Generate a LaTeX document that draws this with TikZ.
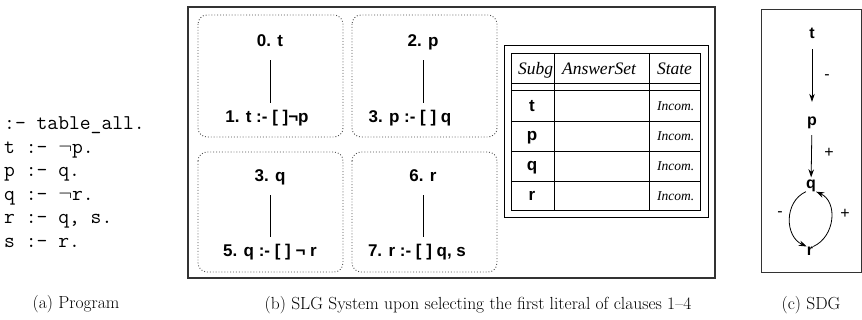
\documentclass[tikz,border=0pt]{standalone}
\usepackage{fontspec}
\newfontfamily\hv{Liberation Sans}
\newfontfamily\tms{Liberation Serif}
\usetikzlibrary{arrows.meta}
\begin{document}
\begin{tikzpicture}[x=1pt,y=-1pt,
  bframe/.style={draw=black!80,line width=1.4pt},
  sframe/.style={draw=black!80,line width=1pt},
  dotbox/.style={draw=black!70,dotted,line width=0.9pt,rounded corners=9pt},
  lbl/.style={font=\hv\bfseries\fontsize{17}{20}\selectfont,inner sep=0pt,text height=12.5pt,text depth=3.5pt},
  rowl/.style={font=\hv\bfseries\fontsize{17}{20}\selectfont,inner sep=0pt,anchor=base},
  conn/.style={line width=1pt},
  hdr/.style={font=\tms\itshape\fontsize{17.5}{20}\selectfont,inner sep=0pt,anchor=base},
  inc/.style={font=\tms\itshape\fontsize{13.5}{16}\selectfont,inner sep=0pt,anchor=base west},
  prog/.style={font=\ttfamily\fontsize{21}{24}\selectfont,inner sep=0pt,anchor=base west},
  captxt/.style={font=\fontsize{17.5}{20}\selectfont,inner sep=0pt},
  sdgl/.style={font=\hv\bfseries\fontsize{16}{19}\selectfont,inner sep=0pt},
  sgn/.style={font=\hv\fontsize{16}{19}\selectfont,inner sep=0pt},
  tline/.style={line width=0.9pt},
  sarr/.style={line width=0.8pt,-{Stealth[length=8pt,width=5.5pt]}},
]
\useasboundingbox (0,0) rectangle (862,320);

% (a) program
\node[prog] (p1) at (4,130) {:- table\_all.};
\node[prog] (p2) at (4,153.5) {t :- $\neg$p.};
\node[prog] (p3) at (4,177) {p :- q.};
\node[prog] (p4) at (4,200.5) {q :- $\neg$r.};
\node[prog] (p5) at (4,224) {r :- q, s.};
\node[prog] (p6) at (4,247.5) {s :- r.};
\node[captxt] (capa) at (76,304) {(a) Program};

% (b) SLG system
\draw[bframe] (188,7) rectangle (715,278);
\draw[dotbox] (198,15) rectangle (343,137);
\draw[dotbox] (352,15) rectangle (497,137);
\draw[dotbox] (198,152) rectangle (343,272);
\draw[dotbox] (352,152) rectangle (497,272);

\node[lbl] (a0) at (270,42) {0. t};
\node[lbl] (a1) at (267,118) {1. t :- [ ]¬p};
\draw[conn,shorten <=10pt,shorten >=15pt] (a0) -- (a0 |- a1);

\node[lbl] (b0) at (423,42) {2. p};
\node[lbl] (b1) at (410,118) {3. p :- [ ] q};
\draw[conn,shorten <=10pt,shorten >=15pt] (b0) -- (b0 |- b1);

\node[lbl] (c0) at (270,177) {3. q};
\node[lbl] (c1) at (270,252) {5. q :- [ ] ¬ r};
\draw[conn,shorten <=10pt,shorten >=15pt] (c0) -- (c0 |- c1);

\node[lbl] (d0) at (423,177) {6. r};
\node[lbl] (d1) at (417,252) {7. r :- [ ] q, s};
\draw[conn,shorten <=10pt,shorten >=15pt] (d0) -- (d0 |- d1);

% table
\draw[tline] (504,45) rectangle (708,217);
\draw[tline] (511,53) rectangle (700,210);
\draw[tline] (511,83) -- (700,83);
\draw[tline] (511,90) -- (700,90);
\draw[tline] (511,121) -- (700,121);
\draw[tline] (511,151) -- (700,151);
\draw[tline] (511,181) -- (700,181);
\draw[tline] (554,53) -- (554,210);
\draw[tline] (649,53) -- (649,210);
\node[hdr] (h1) at (535.5,75) {Subg};
\node[hdr] (h2) at (599,75) {AnswerSet};
\node[hdr] (h3) at (674.5,75) {State};
\node[rowl] (rt) at (532,111.5) {t};
\node[rowl] (rp) at (532,141) {p};
\node[rowl] (rq) at (532,171) {q};
\node[rowl] (rr) at (532,201) {r};
\node[inc] (i1) at (657,111) {Incom.};
\node[inc] (i2) at (657,141) {Incom.};
\node[inc] (i3) at (657,171) {Incom.};
\node[inc] (i4) at (657,200.5) {Incom.};
\node[captxt] (capb) at (478,305) {(b) SLG System upon selecting the first literal of clauses 1--4};

% (c) SDG
\draw[sframe] (761,10) rectangle (861.5,273);
\node[sdgl] (t) at (812,33) {t};
\node[sdgl] (p) at (812,123) {p};
\node[sdgl] (q) at (811,185.5) {q};
\node[sdgl] (r) at (810,251) {r};
\draw[sarr,shorten <=11pt,shorten >=15pt] (t) -- (p);
\draw[sarr,shorten <=6pt,shorten >=2pt] (p) -- (q);
\draw[sarr] (r.north east) .. controls +(22,-10) and +(22,10) .. (q.south east);
\draw[sarr] (q.south west) .. controls +(-22,10) and +(-22,-10) .. (r.north west);
\node[sgn] (m1) at (827,77) {-};
\node[sgn] (s1) at (829,153) {+};
\node[sgn] (m2) at (780,214) {-};
\node[sgn] (s2) at (845,214) {+};
\node[captxt] (capc) at (811,305) {(c) SDG};
\end{tikzpicture}
\end{document}
